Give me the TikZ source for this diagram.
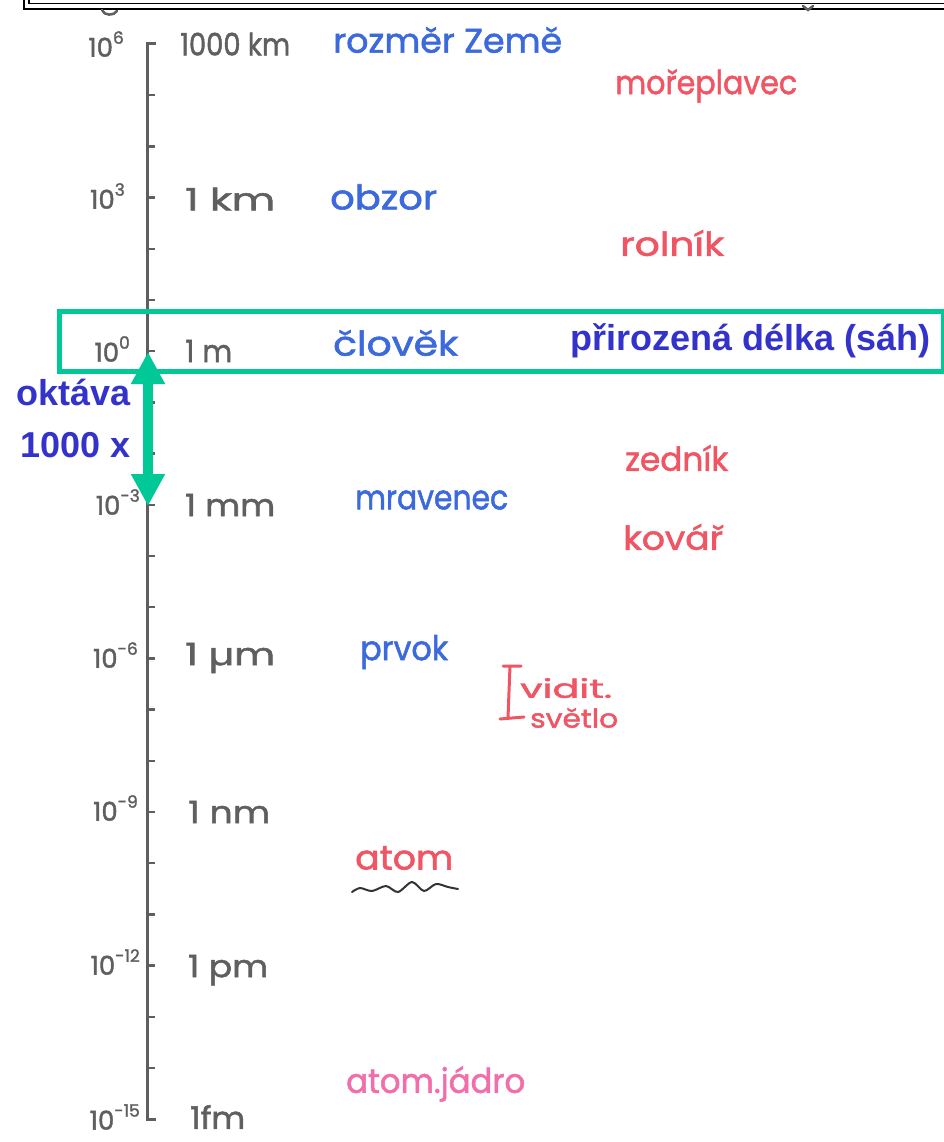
\documentclass[tikz,border=0pt]{standalone}
\usepackage{fontspec}
\usepackage{graphicx}
\setmainfont{Liberation Sans}
\newfontfamily\hand[FakeBold=1.6]{Poppins}
\usetikzlibrary{arrows.meta}
\definecolor{axgray}{RGB}{95,95,95}
\definecolor{hblue}{RGB}{60,105,220}
\definecolor{hred}{RGB}{240,85,100}
\definecolor{hpink}{RGB}{242,110,170}
\definecolor{tblue}{RGB}{51,51,204}
\definecolor{tgreen}{RGB}{0,200,150}
\newcommand{\fsz}[1]{\fontsize{#1}{#1}\selectfont}
\newcommand{\pten}[1]{10\raisebox{0.5em}{\fsz{17}#1}}
\newcommand{\fitw}[2]{\resizebox{#1pt}{\height}{#2}}
\begin{document}
\begin{tikzpicture}[x=1pt,y=-1pt,
  hw/.style={inner sep=0pt, anchor=west},
  unitlbl/.style={hw, text=axgray, font=\hand\fsz{31}},
  explbl/.style={inner sep=0pt, anchor=east, text=axgray, font=\hand\fsz{26}},
  bluelbl/.style={hw, text=hblue, font=\hand\fsz{34}},
  redlbl/.style={hw, text=hred, font=\hand\fsz{33}},
  boldlbl/.style={inner sep=0pt, text=tblue, font=\bfseries\fsz{36}},
  axisline/.style={draw=axgray, line width=3pt},
  tickline/.style={draw=axgray, line width=2.5pt},
  frameline/.style={draw=black, line width=1.6pt},
  greenbox/.style={draw=tgreen, line width=5pt, inner sep=0pt, anchor=north west},
  octarrow/.style={draw=tgreen, line width=10pt, {Triangle[length=32pt,width=32pt]}-{Triangle[length=32pt,width=32pt]}}
]
\useasboundingbox (0,0) rectangle (944,1142);
% top double frame (cut off)
\draw[frameline] (24,-20) -- (24,9) -- (960,9);
\draw[frameline] (29,-20) -- (29,3.5) -- (960,3.5);
% remnants under the frame
\draw[axgray, line width=2.5pt, line cap=round] (102,10) .. controls (104,16) and (114,16) .. (117,11);
\draw[axgray, line width=2.5pt, line cap=round] (803,6) -- (808,10) -- (813,6);

% axis
\draw[axisline] (156,44) -- (147,44) -- (147,1119) -- (156,1119);
\foreach \k in {1,...,20} {
  \draw[tickline] (147,44+51.2*\k) -- (155,44+51.2*\k);
}
% exponent labels
\node[explbl] (e6)  at (124,44)  {\pten{6}};
\node[explbl] (e3)  at (125,196) {\pten{3}};
\node[explbl] (e0)  at (130,349) {\pten{0}};
\node[explbl] (em3) at (140,502) {\pten{-3}};
\node[explbl] (em6) at (138,655) {\pten{-6}};
\node[explbl] (em9) at (138,808) {\pten{-9}};
\node[explbl] (em12) at (140,962) {\pten{-12}};
\node[explbl] (em15) at (140,1117) {\pten{-15}};
% unit labels
\node[unitlbl] (u6)  at (180,44)  {\fitw{110}{1000 km}};
\node[unitlbl] (u3)  at (185,199) {\fitw{90}{1 km}};
\node[unitlbl] (u0)  at (185,351) {\fitw{47}{1 m}};
\node[unitlbl] (um3) at (185,505) {\fitw{90}{1 mm}};
\node[unitlbl] (um6) at (185,658) {\fitw{90}{1 µm}};
\node[unitlbl] (um9) at (188,812) {\fitw{82}{1 nm}};
\node[unitlbl] (um12) at (188,970) {\fitw{80}{1 pm}};
\node[unitlbl] (um15) at (190,1117) {\fitw{55}{1fm}};

% blue labels
\node[bluelbl] (zeme)  at (333,40)  {\fitw{229}{rozměr Země}};
\node[bluelbl] (obzor) at (330,197) {\fitw{107}{obzor}};
\node[bluelbl] (clovek) at (333,343) {\fitw{125}{člověk}};
\node[bluelbl] (mrav)  at (355,500) {\fitw{153}{mravenec}};
\node[bluelbl] (prvok) at (360,652) {\fitw{88}{prvok}};
% red labels
\node[redlbl] (morepl) at (615,86)  {\fitw{182}{mořeplavec}};
\node[redlbl] (rolnik) at (620,243) {\fitw{104}{rolník}};
\node[redlbl] (zednik) at (625,458) {\fitw{103}{zedník}};
\node[redlbl] (kovar)  at (623,537) {\fitw{100}{kovář}};
\node[redlbl, font=\hand\fsz{26}] (vidit) at (520,688) {\fitw{92}{vidit.}};
\node[redlbl, font=\hand\fsz{26}] (svetlo) at (530,718) {\fitw{88}{světlo}};
\draw[hred, line width=3pt, line cap=round] (503,666) -- (521,666) (510,666) -- (508,718) (500,719) -- (524,717);
\node[redlbl, font=\hand\fsz{34}] (atom) at (355,858) {\fitw{98}{atom}};
\draw[black!80, line width=2pt, line cap=round] plot[smooth] coordinates {(352,892) (360,888) (372,891) (386,886) (398,892) (412,882) (424,891) (436,884) (448,887) (458,889)};
\node[hw, text=hpink, font=\hand\fsz{34}] (jadro) at (346,1084) {\fitw{179}{atom.jádro}};

% natural length box
\node[greenbox, minimum width=884pt, minimum height=60pt] (natbox) at (57,309) {};
\node[boldlbl, anchor=east] (natlen) at (931,341) {přirozená délka (sáh)};
% octave arrow
\coordinate (arTop) at (148,352);
\coordinate (arBot) at (148,506);
\draw[octarrow] (arTop) -- (arBot);
\node[boldlbl, anchor=east, align=right, font=\bfseries\fsz{36}\setlength{\baselineskip}{52pt}] (okt) at (131,418) {oktáva\\1000 x};
\end{tikzpicture}
\end{document}
